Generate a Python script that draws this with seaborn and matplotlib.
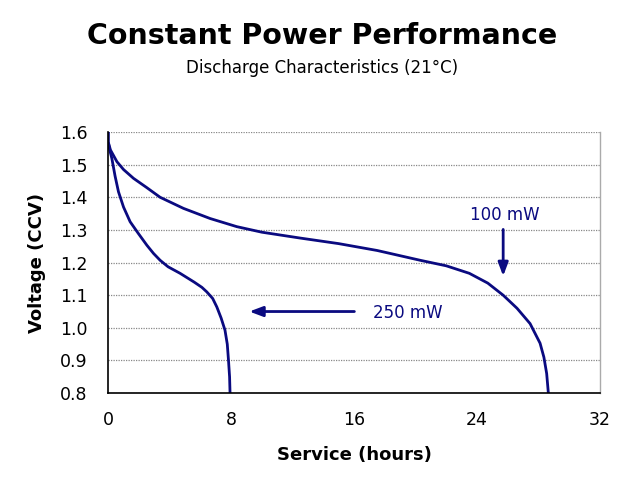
import matplotlib
matplotlib.use("Agg")
import matplotlib.pyplot as plt
import pandas as pd
import seaborn as sns

# 100 mW discharge curve (hours, volts)
hours_100 = [0.0, 0.0, 0.15, 0.57, 1.0, 1.65, 2.5, 3.38, 4.9, 6.63, 8.37, 10.0,
             12.5, 15.0, 17.5, 20.3, 22.0, 23.5, 24.7, 25.7, 26.6, 27.45, 28.1,
             28.35, 28.53, 28.64]
volts_100 = [1.60, 1.57, 1.545, 1.509, 1.485, 1.458, 1.43, 1.40, 1.366, 1.335, 1.31, 1.293,
             1.275, 1.258, 1.237, 1.207, 1.19, 1.167, 1.137, 1.10, 1.06, 1.013, 0.953,
             0.91, 0.86, 0.80]

# 250 mW discharge curve
hours_250 = [0.0, 0.0, 0.1, 0.24, 0.45, 0.67, 1.0, 1.43, 1.95, 2.52, 2.95, 3.38, 3.9,
             4.68, 5.6, 6.1, 6.42, 6.8, 7.07, 7.35, 7.6, 7.75, 7.83, 7.9, 7.93]
volts_250 = [1.60, 1.57, 1.545, 1.519, 1.465, 1.417, 1.37, 1.325, 1.29, 1.253, 1.228, 1.207, 1.187,
             1.167, 1.14, 1.124, 1.11, 1.09, 1.064, 1.03, 0.993, 0.95, 0.90, 0.85, 0.80]

y_ticks = [0.8, 0.9, 1.0, 1.1, 1.2, 1.3, 1.4, 1.5, 1.6]
x_ticks = [0, 8, 16, 24, 32]

df = pd.concat([
    pd.DataFrame({"hours": hours_100, "volts": volts_100, "power": "100 mW"}),
    pd.DataFrame({"hours": hours_250, "volts": volts_250, "power": "250 mW"}),
])

sns.set_style("white")
plt.rcParams["font.family"] = ["DejaVu Sans"]
plt.rcParams["text.color"] = "black"
plt.rcParams["axes.labelcolor"] = "black"
plt.rcParams["xtick.color"] = "black"
plt.rcParams["ytick.color"] = "black"

navy = "#0a0a80"
fig = plt.figure(figsize=(6.4, 4.8), dpi=100)
ax = fig.add_axes([0.169, 0.181, 0.7685, 0.544])

sns.lineplot(data=df, x="hours", y="volts", units="power", estimator=None,
             sort=False, color=navy, linewidth=2.0, ax=ax, legend=False,
             solid_joinstyle="round", solid_capstyle="butt")

ax.set_xlim(0, 32)
ax.set_ylim(0.8, 1.6)
ax.set_xticks(x_ticks)
ax.set_yticks(y_ticks)
ax.set_yticklabels([f"{v:.1f}" for v in y_ticks])
ax.tick_params(axis="y", labelsize=12.5, length=0, pad=15)
ax.tick_params(axis="x", labelsize=12.5, length=0, pad=13)
ax.grid(axis="y", color="#888888", linestyle=(0, (1, 1)), linewidth=0.9)
ax.grid(axis="x", visible=False)

for side in ["left", "bottom"]:
    ax.spines[side].set_color("black")
    ax.spines[side].set_linewidth(1.2)
ax.spines["right"].set_color("#aaaaaa")
ax.spines["right"].set_linewidth(1.0)
ax.spines["top"].set_visible(False)

ax.set_xlabel("Service (hours)", fontsize=13, fontweight="bold", labelpad=12)
ax.set_ylabel("Voltage (CCV)", fontsize=13, fontweight="bold", labelpad=10)

# annotations
ax.annotate("", xy=(25.7, 1.15), xytext=(25.7, 1.31),
            arrowprops=dict(arrowstyle="-|>,head_length=0.8,head_width=0.3",
                            color=navy, lw=2.0))
ax.text(25.8, 1.345, "100 mW", color=navy, fontsize=12, ha="center", va="center")
ax.annotate("", xy=(9.0, 1.05), xytext=(16.2, 1.05),
            arrowprops=dict(arrowstyle="-|>,head_length=0.8,head_width=0.3",
                            color=navy, lw=2.0))
ax.text(17.2, 1.045, "250 mW", color=navy, fontsize=12, ha="left", va="center")

fig.text(0.503, 0.925, "Constant Power Performance", fontsize=20.5, fontweight="heavy",
         ha="center", va="center")
fig.text(0.503, 0.858, "Discharge Characteristics (21°C)", fontsize=12,
         ha="center", va="center")

fig.savefig("out.png", dpi=100)
